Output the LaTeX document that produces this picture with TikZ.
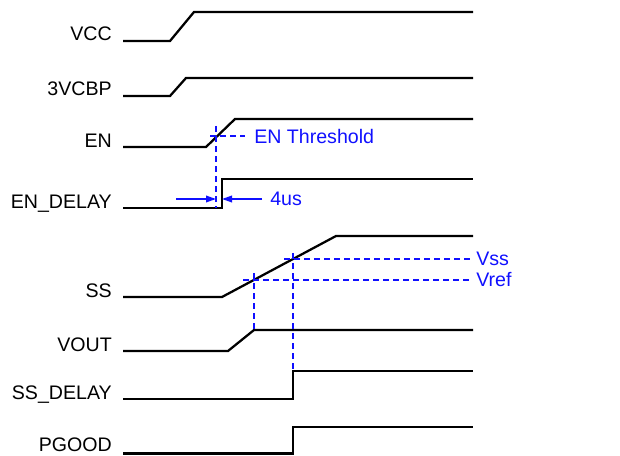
\documentclass[tikz,border=0pt]{standalone}
\usepackage{fontspec}
\setmainfont{Liberation Sans}
\definecolor{seqBlue}{HTML}{1010FF}
\usetikzlibrary{arrows.meta}

\begin{document}
\begin{tikzpicture}[x=0.75pt, y=-0.75pt,
		wave/.style={line width=1.7pt, black, line join=miter},
		marker/.style={draw=seqBlue, line width=1.1pt, dash pattern=on 4.5pt off 3pt},
		signame/.style={anchor=base east, inner sep=0pt, font=\fontsize{14.7}{17}\selectfont},
		note/.style={anchor=west, inner sep=0pt, text=seqBlue, font=\fontsize{14.7}{17}\selectfont},
		gap/.style={-{Triangle[length=7.5pt, width=5pt]}, draw=seqBlue, line width=1.1pt}
	]
		\useasboundingbox (0,0) rectangle (620,456);
		% signal names
		\node[signame] (vcc) at (112,41) {VCC};
		\node[signame] (vbp) at (112,96) {3VCBP};
		\node[signame] (en) at (112,147) {EN};
		\node[signame] (endly) at (112,208) {EN\_DELAY};
		\node[signame] (ss) at (112,297) {SS};
		\node[signame] (vout) at (112,351) {VOUT};
		\node[signame] (ssdly) at (112,399) {SS\_DELAY};
		\node[signame] (pgood) at (112,451.5) {PGOOD};
		% waveforms
		\draw[wave] (123,41) -- (170,41) -- (194,12) -- (473,12);
		\draw[wave] (123,96) -- (170,96) -- (186,78) -- (473,78);
		\draw[wave] (123,147) -- (206,147) -- (235,119) -- (473,119);
		\draw[wave] (123,208) -- (222,208) -- (222,179) -- (473,179);
		\draw[wave] (123,297) -- (222,297) -- (336,236) -- (473,236);
		\draw[wave] (123,351) -- (228,351) -- (254,330) -- (473,330);
		\draw[wave] (123,399) -- (293,399) -- (293,371) -- (473,371);
		\draw[wave] (123,453.5) -- (293,453.5) -- (293,427) -- (473,427);
		% thresholds
		\draw[marker] (210,136) -- (245,136);
		\draw[marker] (216,126) -- (216,208);
		\node[note] (enth) at (254,136) {EN Threshold};
		\draw[marker] (284,259) -- (473,259);
		\draw[marker] (293,253) -- (293,371);
		\node[note] (vss) at (476,259) {Vss};
		\draw[marker] (243,280) -- (473,280);
		\draw[marker] (254,273) -- (254,330);
		\node[note] (vref) at (476,280) {Vref};
		% delay
		\coordinate (thr) at (216,199);
		\coordinate (rise) at (222,199);
		\coordinate (gapL) at (176,199);
		\coordinate (gapR) at (262,199);
		\draw[gap] (gapL) -- (thr);
		\draw[gap] (gapR) -- (rise);
		\node[note] (dly) at (270,199) {4us};
	\end{tikzpicture}
\end{document}
